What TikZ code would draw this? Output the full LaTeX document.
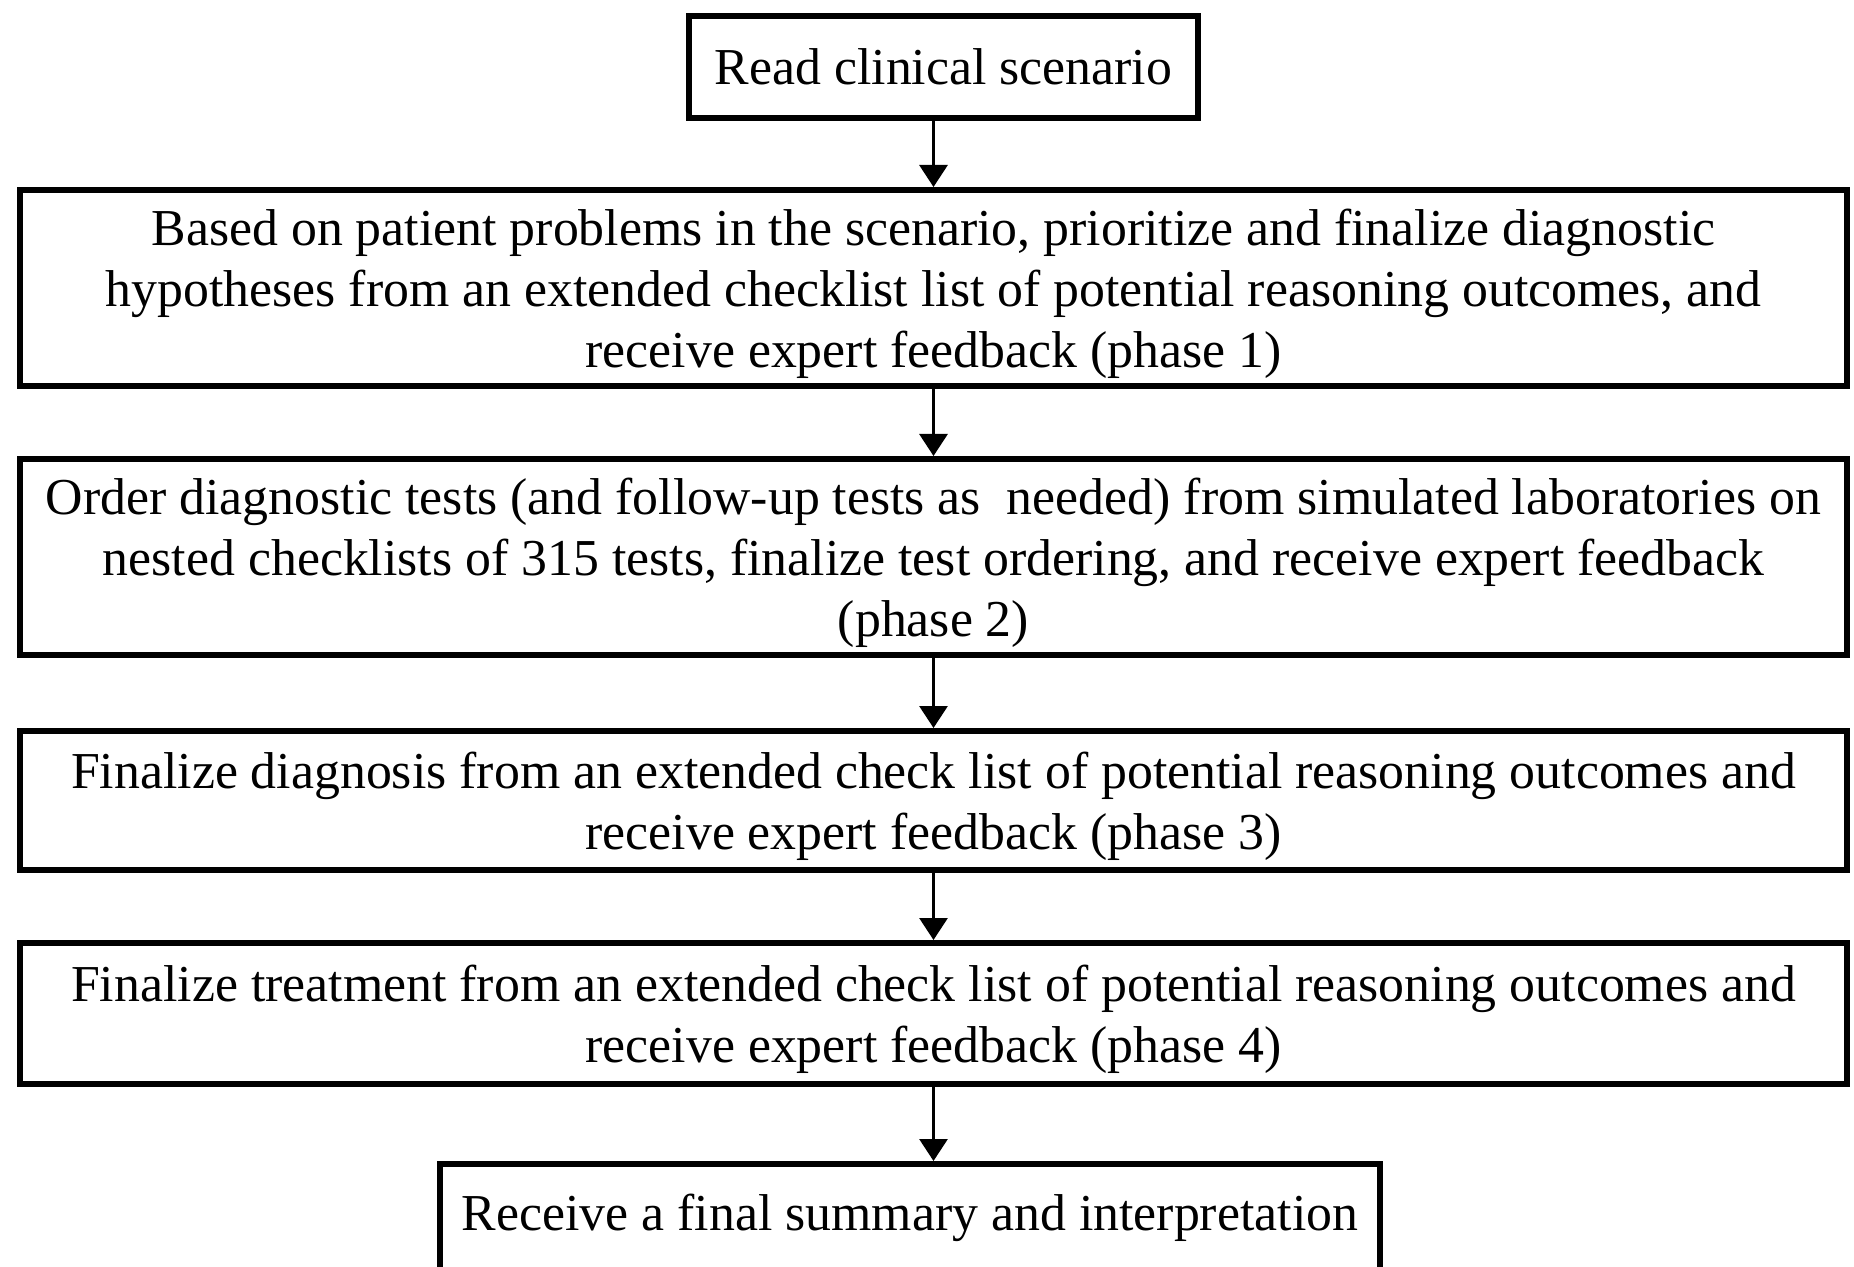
\documentclass[tikz,border=0pt]{standalone}
\usepackage{fontspec}
\setmainfont{Liberation Serif}
\usetikzlibrary{arrows.meta}
\begin{document}
\begin{tikzpicture}[x=0.5pt,y=-0.5pt]
	\tikzstyle{box}=[draw=black,line width=3pt,inner sep=0pt,align=center,font=\fontsize{25.9}{30.5}\selectfont]
	\tikzstyle{multi}=[box,text depth=0pt]
	\tikzstyle{flow}=[line width=1.5pt,-{Triangle[length=11pt,width=14pt]}]
	\useasboundingbox (0,0) rectangle (1854,1267);
	\clip (0,0) rectangle (1854,1267);
	\node[box,minimum width=254.5pt,minimum height=51pt](read) at (943.5,67) {Read clinical scenario};
	\node[multi,minimum width=913.5pt,minimum height=98pt](phaseA) at (933.5,288) {Based on patient problems in the scenario, prioritize and finalize diagnostic\\ hypotheses from an extended checklist list of potential reasoning outcomes, and\\ receive expert feedback (phase 1)};
	\node[multi,minimum width=913.5pt,minimum height=98pt](phaseB) at (933.5,557) {Order diagnostic tests (and follow-up tests as~ needed) from simulated laboratories on\\ nested checklists of 315 tests, finalize test ordering, and receive expert feedback\\ (phase 2)};
	\node[multi,minimum width=913.5pt,minimum height=69.5pt](phaseC) at (933.5,800.5) {Finalize diagnosis from an extended check list of potential reasoning outcomes and\\ receive expert feedback (phase 3)};
	\node[multi,minimum width=913.5pt,minimum height=70.5pt](phaseD) at (933.5,1013.5) {Finalize treatment from an extended check list of potential reasoning outcomes and\\ receive expert feedback (phase 4)};
	\node[box,minimum width=470pt,minimum height=54pt](final) at (910,1218) {Receive a final summary and interpretation};
	\draw[flow] (read.south -| phaseA.north) -- (phaseA.north);
	\draw[flow] (phaseA) -- (phaseB);
	\draw[flow] (phaseB) -- (phaseC);
	\draw[flow] (phaseC) -- (phaseD);
	\draw[flow] (phaseD.south) -- (phaseD.south |- final.north);
\end{tikzpicture}
\end{document}
